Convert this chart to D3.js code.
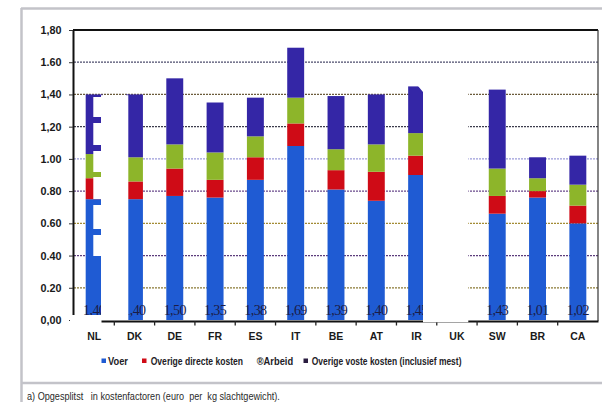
<!DOCTYPE html>
<html>
<head>
<meta charset="utf-8">
<script src="https://cdn.jsdelivr.net/npm/d3@7"></script>
<style>
  body { margin: 0; background: #fff; }
  svg { display: block; }
</style>
</head>
<body>
<svg id="chart" width="602" height="402"></svg>
<script>
// Kostprijs per land, opgesplitst in kostenfactoren (euro per kg slachtgewicht)
const countries = ["NL", "DK", "DE", "FR", "ES", "IT", "BE", "AT", "IR", "UK", "SW", "BR", "CA"];
const voer          = [0.75, 0.75, 0.77, 0.76, 0.87, 1.08, 0.81, 0.74, 0.90, null, 0.66, 0.76, 0.60];
const directeKosten = [0.13, 0.11, 0.17, 0.11, 0.14, 0.14, 0.12, 0.18, 0.12, null, 0.11, 0.04, 0.11];
const arbeid        = [0.15, 0.15, 0.15, 0.17, 0.13, 0.16, 0.13, 0.17, 0.14, null, 0.17, 0.08, 0.13];
const vasteKosten   = [0.37, 0.39, 0.41, 0.31, 0.24, 0.31, 0.33, 0.31, 0.29, null, 0.49, 0.13, 0.18];

const seriesKeys   = ["voer", "directe", "arbeid", "vaste"];
const seriesNames  = ["Voer", "Overige directe kosten", "®Arbeid", "Overige voste kosten (inclusief mest)"];
const seriesColors = ["#1f5bd3", "#cf0b16", "#8db52a", "#3426a6"];

const yTicks      = [0, 0.2, 0.4, 0.6, 0.8, 1.0, 1.2, 1.4, 1.6, 1.8];
const yTickLabels = ["0,00", "0.20", "0.40", "0.60", "0.80", "1.00", "1,20", "1,40", "1.60", "1,80"];

const caption = "a) Opgesplitst\u00a0\u00a0 in\u00a0kostenfactoren\u00a0(euro\u00a0\u00a0per\u00a0\u00a0kg\u00a0slachtgewicht).";

// ---- table for the stack ----
const rows = countries.map((c, i) => ({
  country: c,
  voer: voer[i], directe: directeKosten[i], arbeid: arbeid[i], vaste: vasteKosten[i]
}));
const present = rows.filter(r => r.voer != null);
const stacked = d3.stack().keys(seriesKeys)(present);

const svg = d3.select("#chart");

// ---- scales ----
const x = d3.scaleBand().domain(countries).range([74, 598]).paddingInner(0.58).paddingOuter(0.29);
const y = d3.scaleLinear().domain([0, 1.8]).range([320, 30]);
const step = x.step();
const x0 = x.range()[0];

// squeeze a text horizontally so it spans a given width
function fitWidth(sel, px, py, width) {
  const natural = sel.node().getComputedTextLength();
  const sx = Math.min(1, width / natural);
  sel.attr("x", 0).attr("y", 0).attr("transform", `translate(${px},${py}) scale(${sx},1)`);
}

// ---- page frame ----
const frame = svg.append("g").attr("stroke", "#c3c3c9").attr("stroke-width", 2.5).attr("fill", "none");
frame.append("line").attr("x1", 21).attr("x2", 602).attr("y1", 8.5).attr("y2", 8.5);
frame.append("line").attr("x1", 21.5).attr("x2", 21.5).attr("y1", 8).attr("y2", 402);
frame.append("line").attr("x1", 21).attr("x2", 602).attr("y1", 383).attr("y2", 383);

// ---- gridlines ----
const gridColors = { 0.2: "#8a7a34", 0.4: "#5c3c7c", 0.6: "#a38c34", 0.8: "#6a4a8c",
                     1.0: "#9c9cda", 1.2: "#3c3c4c", 1.4: "#6c5c3c", 1.6: "#4c4c6c" };
svg.append("g").selectAll("line")
  .data(yTicks.filter(v => v > 0 && v < 1.8))
  .join("line")
  .attr("x1", 74).attr("x2", 598)
  .attr("y1", d => y(d)).attr("y2", d => y(d))
  .attr("stroke", d => gridColors[Math.round(d * 10) / 10])
  .attr("stroke-width", 1.2)
  .attr("stroke-dasharray", "2,1");

// top and right frame of the plot
svg.append("line").attr("x1", 73).attr("x2", 598).attr("y1", y(1.8)).attr("y2", y(1.8))
  .attr("stroke", "#111").attr("stroke-width", 2);
svg.append("line").attr("x1", 598).attr("x2", 598).attr("y1", y(1.8)).attr("y2", 321)
  .attr("stroke", "#333").attr("stroke-width", 1.2);

// ---- stacked bars ----
svg.append("g").selectAll("g")
  .data(stacked)
  .join("g")
  .attr("fill", (d, i) => seriesColors[i])
  .selectAll("rect")
  .data(d => d)
  .join("rect")
  .attr("x", d => x(d.data.country))
  .attr("width", x.bandwidth())
  .attr("y", d => y(d[1]))
  .attr("height", d => y(d[0]) - y(d[1]));

// ---- totals at the foot of each bar ----
const fmt = v => v.toFixed(2).replace(".", ",");
svg.append("g").selectAll("text")
  .data(present)
  .join("text")
  .attr("x", d => x(d.country) + x.bandwidth() / 2)
  .attr("y", 315)
  .attr("text-anchor", "middle")
  .attr("font-family", "'Liberation Serif', 'Times New Roman', serif")
  .attr("font-size", 14)
  .attr("letter-spacing", -0.6)
  .attr("fill", "#1c1c46")
  .text(d => fmt(seriesKeys.reduce((s, k) => s + d[k], 0)));

// ---- axes ----
const yAxis = svg.append("g")
  .attr("transform", "translate(73,0)")
  .call(d3.axisLeft(y).tickValues(yTicks).tickFormat((d, i) => yTickLabels[i])
          .tickSize(4).tickSizeOuter(0).tickPadding(7.5));
yAxis.select(".domain").attr("stroke", "#111").attr("stroke-width", 2);
yAxis.selectAll(".tick line").attr("stroke", "#333");
yAxis.selectAll("text")
  .attr("font-family", "'Liberation Sans', Arial, sans-serif")
  .attr("font-weight", "bold").attr("font-size", 10.8).attr("fill", "#1a1a1a");

const xAxis = svg.append("g")
  .attr("transform", "translate(0,321)")
  .call(d3.axisBottom(x).tickSize(0).tickPadding(11.5));
xAxis.select(".domain").attr("stroke", "#111").attr("stroke-width", 2);
xAxis.selectAll("text")
  .attr("font-family", "'Liberation Sans', Arial, sans-serif")
  .attr("font-weight", "bold").attr("font-size", 10.5).attr("fill", "#1a1a1a");
// category boundary ticks
xAxis.append("g").selectAll("line")
  .data(d3.range(1, countries.length))
  .join("line")
  .attr("x1", k => x0 + k * step).attr("x2", k => x0 + k * step)
  .attr("y1", 0).attr("y2", 4.5)
  .attr("stroke", "#222").attr("stroke-width", 1.3);

// ---- cut-out panels ----
const blank = svg.append("g").attr("fill", "#fff");
// left panel between NL and DK
blank.append("rect").attr("x", 101).attr("y", 95.2).attr("width", 27.3).attr("height", 320 - 95.2);
// comb-shaped cut into the NL column
[[97, 117], [123, 145], [151, 172], [177, 199], [205, 229], [235, 256]].forEach(([a, b]) => {
  blank.append("rect").attr("x", 93.3).attr("y", a).attr("width", 8).attr("height", b - a);
});
blank.append("rect").attr("x", 70).attr("y", 315).attr("width", 31.5).attr("height", 8);
// right panel over IR / UK
blank.append("path").attr("d", "M418,80 L468.3,80 L468.3,322.2 L423,322.2 L423,92 L418,86 Z");

// ---- legend ----
const legendX    = [101.5, 142, 256.7, 303.5];
const legendText = [108, 150.7, 256.7, 311.7];
const legendLen  = [20, 92.5, 36.5, 150];
const legend = svg.append("g");
seriesNames.forEach((name, i) => {
  if (!name.startsWith("®")) {
    legend.append("rect")
      .attr("x", legendX[i]).attr("y", 358.5).attr("width", 4.5).attr("height", 4.5)
      .attr("fill", i === 3 ? "#2a1c40" : seriesColors[i]);
  }
  const t = legend.append("text")
    .attr("font-family", "'Liberation Sans', Arial, sans-serif")
    .attr("font-weight", "bold").attr("font-size", 11.5)
    .attr("fill", "#231c26")
    .text(name);
  fitWidth(t, legendText[i], 364.5, legendLen[i]);
});

// ---- caption ----
const cap = svg.append("text")
  .attr("font-family", "'Liberation Sans', Arial, sans-serif")
  .attr("font-size", 10.5).attr("fill", "#2a2a2a")
  .text(caption);
fitWidth(cap, 27, 399.5, 253);
</script>
</body>
</html>
